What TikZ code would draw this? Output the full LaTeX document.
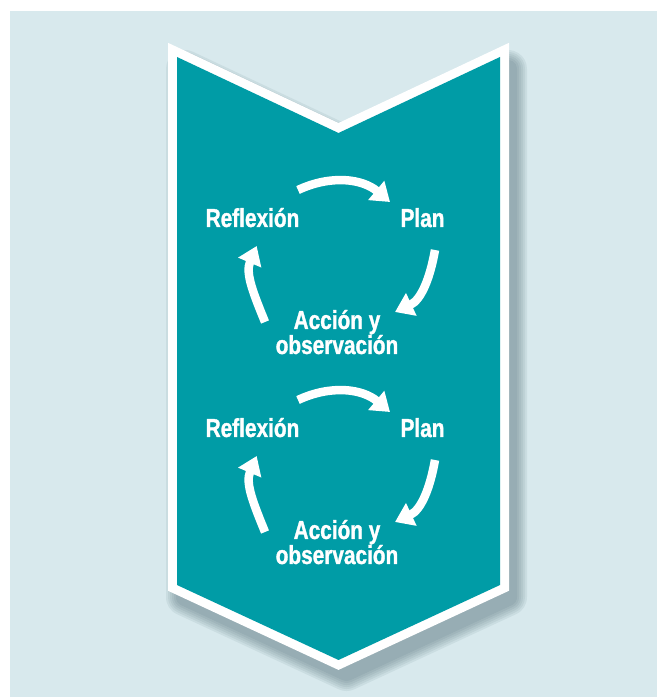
\documentclass[tikz,border=0pt]{standalone}
\usepackage{fontspec}
\setmainfont{Liberation Sans}
\newfontfamily\condfont{Liberation Sans}[FakeStretch=0.8, BoldFeatures={FakeBold=1.2}]
\usetikzlibrary{arrows.meta}

\definecolor{bgblue}{RGB}{216,233,237}
\definecolor{chevteal}{RGB}{0,156,166}
\definecolor{shadowgray}{RGB}{70,100,110}

\tikzset{
	cyclabel/.style={text=white, font=\condfont\bfseries\fontsize{26}{25}\selectfont, inner sep=0pt, anchor=base},
	cycarrow/.style={draw=white, line width=8.5pt, -{Triangle[length=18pt, width=24pt]}}
}

\begin{document}
\begin{tikzpicture}[x=1pt,y=1pt]
		\useasboundingbox (0,0) rectangle (657,697);
		\fill[white] (0,0) rectangle (657,697);
		\fill[bgblue] (10,0) rectangle (657,686);

		\foreach \w [evaluate=\w as \lw using 18+\w] in {0,4,...,20}
			\draw[shadowgray, opacity=0.09, line width=\lw pt, line join=round, xshift=8pt, yshift=-12pt] (177,640) -- (338.5,564) -- (500,640) -- (500,112) -- (338.5,37) -- (177,112) -- cycle;

		\path[preaction={draw=white, line width=18pt, line join=miter}, fill=chevteal] (177,640) -- (338.5,564) -- (500,640) -- (500,112) -- (338.5,37) -- (177,112) -- cycle;

		\foreach \i/\dy in {1/0,2/210} {
			\node[cyclabel] (refl\i) at (252.5,470-\dy) {Reflexión};
			\node[cyclabel] (plan\i) at (422.5,470-\dy) {Plan};
			\node[cyclabel, align=center] (acc\i) at (337,343-\dy) {Acción y\\observación};

			\draw[cycarrow] ([shift={(45.5,37)}]refl\i.base) to[out=25,in=140] ([shift={(-32.5,25)}]plan\i.base);
			\draw[cycarrow] ([shift={(12.5,-23)}]plan\i.base) to[out=-100,in=25] ([shift={(58,42)}]acc\i.base);
			\draw[cycarrow] ([shift={(-72,32)}]acc\i.base) to[out=112,in=247] ([shift={(4.2,-19)}]refl\i.base);
		}
	\end{tikzpicture}
\end{document}
